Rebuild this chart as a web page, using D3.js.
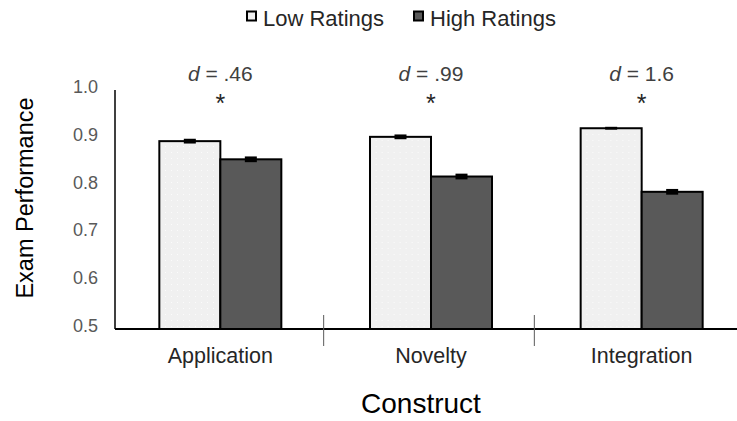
<!DOCTYPE html>
<html>
<head>
<meta charset="utf-8">
<script src="https://cdn.jsdelivr.net/npm/d3@7"></script>
<style>
  html, body { margin: 0; padding: 0; background: #fff; }
  svg { display: block; font-family: "Liberation Sans", Arial, sans-serif; }
</style>
</head>
<body>
<svg id="chart" width="737" height="421"></svg>
<script>
// Exam performance by construct, split by low vs high ratings
const constructs = ["Application", "Novelty", "Integration"];
const seriesNames = ["Low Ratings", "High Ratings"];
const lowMeans = [0.893, 0.902, 0.920];
const highMeans = [0.855, 0.819, 0.787];
const lowSE = [0.005, 0.005, 0.003];
const highSE = [0.006, 0.006, 0.006];
const effectSizes = [".46", ".99", "1.6"];
const yTicks = [0.5, 0.6, 0.7, 0.8, 0.9, 1.0];

const svg = d3.select("#chart");
const plotLeft = 115, plotRight = 747, plotTop = 90, plotBottom = 329;

const x = d3.scaleBand().domain(constructs).range([plotLeft, plotRight]);
const xInner = d3.scaleBand().domain(seriesNames)
  .range([x.bandwidth() / 2 - 61, x.bandwidth() / 2 + 61]);
const y = d3.scaleLinear().domain([0.5, 1.0]).range([plotBottom, plotTop]);

const fills = { "Low Ratings": "#f0f0f0", "High Ratings": "#595959" };

// faint dotted texture on the light bars
const defs = svg.append("defs");
const pat = defs.append("pattern").attr("id", "dots")
  .attr("width", 6).attr("height", 6).attr("patternUnits", "userSpaceOnUse");
pat.append("rect").attr("width", 6).attr("height", 6).attr("fill", "#f0f0f0");
pat.append("rect").attr("x", 2).attr("y", 2).attr("width", 1).attr("height", 1).attr("fill", "#fbfbfb");

const rows = constructs.map((c, i) => ({
  construct: c,
  values: [
    { series: "Low Ratings", mean: lowMeans[i], se: lowSE[i] },
    { series: "High Ratings", mean: highMeans[i], se: highSE[i] }
  ],
  d: effectSizes[i]
}));

// y axis line and tick labels
svg.append("line").attr("x1", plotLeft).attr("x2", plotLeft)
  .attr("y1", y(1.0)).attr("y2", y(0.5))
  .attr("stroke", "#000").attr("stroke-width", 1.5);
svg.selectAll("text.ytick").data(yTicks).join("text")
  .attr("class", "ytick")
  .attr("x", 98).attr("y", d => y(d) + 3)
  .attr("text-anchor", "end")
  .attr("font-size", 18).attr("fill", "#595959")
  .text(d => d.toFixed(1));

// bars
const groups = svg.selectAll("g.grp").data(rows).join("g")
  .attr("class", "grp")
  .attr("transform", d => `translate(${x(d.construct)},0)`);

groups.selectAll("rect.bar").data(d => d.values).join("rect")
  .attr("class", "bar")
  .attr("x", d => xInner(d.series))
  .attr("width", xInner.bandwidth())
  .attr("y", d => y(d.mean))
  .attr("height", d => y(0.5) - y(d.mean))
  .attr("fill", d => d.series === "Low Ratings" ? "url(#dots)" : fills[d.series])
  .attr("stroke", "#000").attr("stroke-width", 2);

// error bars
groups.selectAll("rect.err").data(d => d.values).join("rect")
  .attr("class", "err")
  .attr("x", d => xInner(d.series) + xInner.bandwidth() / 2 - 6)
  .attr("width", 12)
  .attr("y", d => y(d.mean + d.se))
  .attr("height", d => y(d.mean - d.se) - y(d.mean + d.se))
  .attr("fill", "#000");

// effect size and significance markers
groups.append("text")
  .attr("x", x.bandwidth() / 2).attr("y", 81)
  .attr("text-anchor", "middle").attr("font-size", 21).attr("fill", "#404040")
  .call(t => {
    t.append("tspan").attr("font-style", "italic").text("d");
    t.append("tspan").text(d => " = " + d.d);
  });
groups.append("text")
  .attr("x", x.bandwidth() / 2).attr("y", 112)
  .attr("text-anchor", "middle").attr("font-size", 25).attr("fill", "#262626")
  .text("*");

// x axis baseline, category dividers and labels
svg.append("line").attr("x1", plotLeft).attr("x2", plotRight)
  .attr("y1", plotBottom).attr("y2", plotBottom)
  .attr("stroke", "#000").attr("stroke-width", 2);
svg.selectAll("line.div").data(constructs.slice(1)).join("line")
  .attr("class", "div")
  .attr("x1", d => x(d) - 2).attr("x2", d => x(d) - 2)
  .attr("y1", plotBottom - 14).attr("y2", plotBottom + 17)
  .attr("stroke", "#595959").attr("stroke-width", 1);
svg.selectAll("text.cat").data(constructs).join("text")
  .attr("class", "cat")
  .attr("x", d => x(d) + x.bandwidth() / 2).attr("y", 363)
  .attr("text-anchor", "middle").attr("font-size", 21.5).attr("fill", "#262626")
  .text(d => d);

// axis titles
svg.append("text")
  .attr("x", 421).attr("y", 413)
  .attr("text-anchor", "middle").attr("font-size", 28).attr("fill", "#000")
  .text("Construct");
svg.append("text")
  .attr("transform", "translate(33,198) rotate(-90)")
  .attr("text-anchor", "middle").attr("font-size", 23.5).attr("fill", "#000")
  .text("Exam Performance");

// legend
const legend = svg.append("g");
const legendPos = [247, 414];
seriesNames.forEach((s, i) => {
  legend.append("rect")
    .attr("x", legendPos[i]).attr("y", 11.5).attr("width", 9).attr("height", 9)
    .attr("fill", fills[s]).attr("stroke", "#000").attr("stroke-width", 2);
  legend.append("text")
    .attr("x", legendPos[i] + 16).attr("y", 26)
    .attr("font-size", 22).attr("fill", "#262626")
    .text(s);
});
</script>
</body>
</html>
